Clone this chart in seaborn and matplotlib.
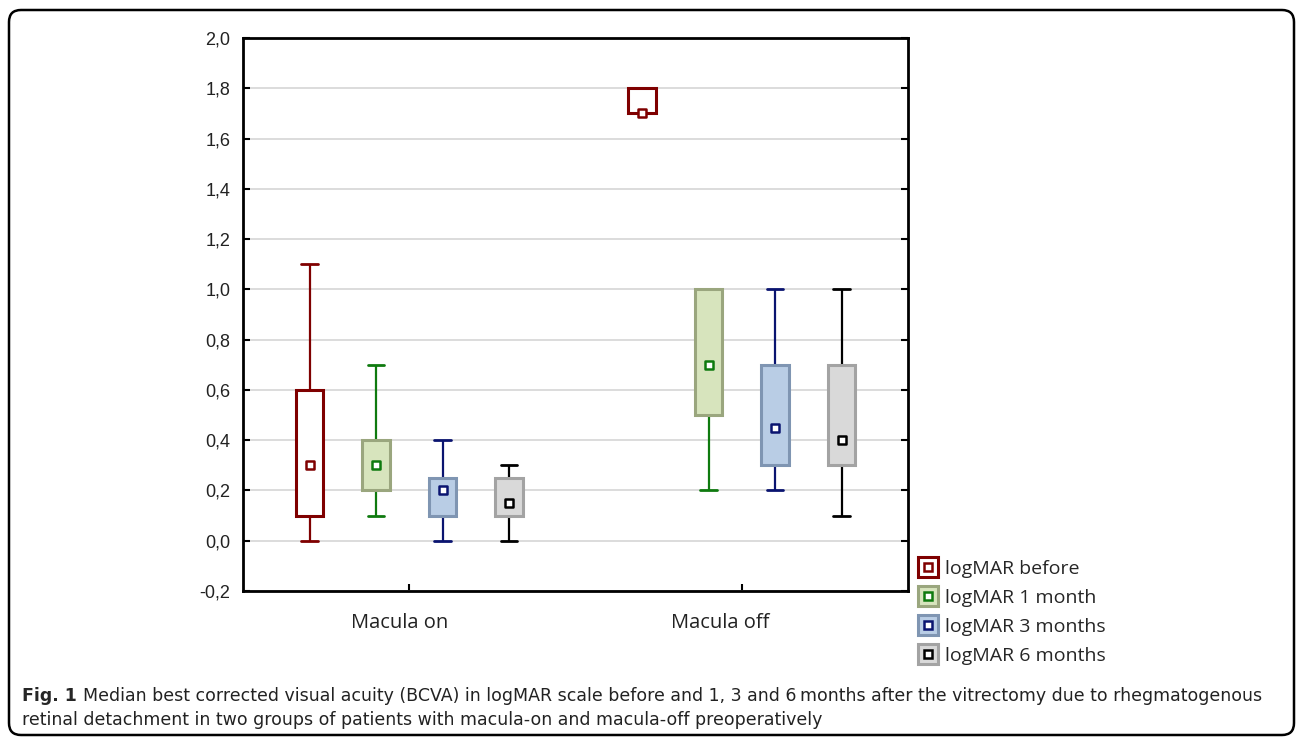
import numpy as np
import pandas as pd
import matplotlib
matplotlib.use("Agg")
import matplotlib.pyplot as plt
import matplotlib.transforms as mtransforms
import seaborn as sns
from matplotlib.patches import FancyBboxPatch
from matplotlib.lines import Line2D

# ---------------- data ----------------
groups = ["Macula on", "Macula off"]
times = ["logMAR before", "logMAR 1 month", "logMAR 3 months", "logMAR 6 months"]

# five-number summaries: min, q1, median, q3, max  (per time point)
on_before = [0.0, 0.1, 0.3, 0.6, 1.1]
on_1m     = [0.1, 0.2, 0.3, 0.4, 0.7]
on_3m     = [0.0, 0.1, 0.2, 0.25, 0.4]
on_6m     = [0.0, 0.1, 0.15, 0.25, 0.3]
off_before = [1.7, 1.7, 1.7, 1.8, 1.8]
off_1m     = [0.2, 0.5, 0.7, 1.0, 1.0]
off_3m     = [0.2, 0.3, 0.45, 0.7, 1.0]
off_6m     = [0.1, 0.3, 0.4, 0.7, 1.0]

y_ticks = [-0.2, 0.0, 0.2, 0.4, 0.6, 0.8, 1.0, 1.2, 1.4, 1.6, 1.8, 2.0]
y_tick_labels = ["-0,2", "0,0", "0,2", "0,4", "0,6", "0,8", "1,0",
                 "1,2", "1,4", "1,6", "1,8", "2,0"]

caption_bold = "Fig. 1"
caption_line1 = ("Median best corrected visual acuity (BCVA) in logMAR scale before and 1, 3 and 6\u2009months "
                 "after the vitrectomy due to rhegmatogenous")
caption_line2 = "retinal detachment in two groups of patients with macula-on and macula-off preoperatively"

# ---------------- styles ----------------
box_face  = ["#FFFFFF", "#D7E4BD", "#B9CDE5", "#D9D9D9"]
box_edge  = ["#7F0000", "#9AA67E", "#7F95B2", "#A3A3A3"]
line_col  = ["#7F0000", "#0F7A0F", "#0A1470", "#000000"]
xlabel_shift_px = [-10, -22]

summaries = {
    "Macula on": [on_before, on_1m, on_3m, on_6m],
    "Macula off": [off_before, off_1m, off_3m, off_6m],
}
rows = []
for g in groups:
    for t, s in zip(times, summaries[g]):
        for v in s:
            rows.append({"group": g, "time": t, "value": v})
df = pd.DataFrame(rows)
med_df = pd.DataFrame([{"group": g, "time": t, "median": s[2]}
                       for g in groups for t, s in zip(times, summaries[g])])

sns.set_style("white")
plt.rcParams["font.family"] = ["Liberation Sans", "DejaVu Sans"]

fig = plt.figure(figsize=(12.96, 7.39), dpi=100)

# card background with rounded border
bg = fig.add_axes([0, 0, 1, 1], zorder=-10)
bg.set_xlim(0, 1296)
bg.set_ylim(739, 0)
bg.axis("off")
bg.add_patch(FancyBboxPatch((9, 10), 1285, 725, boxstyle="round,pad=0,rounding_size=12",
                            facecolor="white", edgecolor="black", linewidth=1.8))

ax = fig.add_axes([243 / 1296, 1 - 591 / 739, (908 - 243) / 1296, (591 - 38) / 739])
ax.set_facecolor("none")

sns.boxplot(data=df, x="group", y="value", hue="time", order=groups, hue_order=times,
            whis=(0, 100), width=0.8, gap=0.58, showfliers=False, saturation=1,
            palette=box_face, linewidth=2, linecolor="black", legend=False, ax=ax,
            medianprops=dict(visible=False))

conts = list(ax.containers)
for i, c in enumerate(conts[:4]):
    for b in c.boxes:
        b.set_facecolor(box_face[i])
        b.set_edgecolor(box_edge[i])
        b.set_linewidth(2.2)
        b.set_zorder(3)
    for w in c.whiskers:
        w.set_color(line_col[i])
        w.set_linewidth(1.6)
        w.set_zorder(2)
    for cp in c.caps:
        cp.set_color(line_col[i])
        cp.set_linewidth(2.0)
        cp.set_zorder(2)
        xd = cp.get_xdata()
        mid = (xd[0] + xd[1]) / 2
        half = (xd[1] - xd[0]) / 2 * 1.2
        cp.set_xdata([mid - half, mid + half])

n0 = len(ax.collections)
sns.stripplot(data=med_df, x="group", y="median", hue="time", order=groups, hue_order=times,
              dodge=True, jitter=False, marker="s", size=5.5, linewidth=1.8,
              palette=line_col, legend=False, ax=ax, zorder=6)
for coll in ax.collections[n0:]:
    fc = coll.get_facecolor()
    coll.set_edgecolor(fc)
    coll.set_facecolor("white")
    coll.set_zorder(6)

ax.set_ylim(-0.2, 2.0)
ax.set_xlim(-0.5, 1.5)
ax.set_yticks(y_ticks, y_tick_labels)
ax.set_xticks(range(len(groups)), groups)
ax.set_xlabel("")
ax.set_ylabel("")
ax.yaxis.grid(True, color="#D9D9D9", linewidth=1.3, zorder=0)
ax.xaxis.grid(False)
ax.set_axisbelow(True)
for s in ax.spines.values():
    s.set_visible(True)
    s.set_color("black")
    s.set_linewidth(2)
ax.tick_params(axis="y", direction="in", left=True, right=True, length=5, width=1.5,
               labelsize=13, pad=9, colors="black")
ax.tick_params(axis="x", direction="in", bottom=True, top=False, length=5, width=1.5,
               labelsize=14.5, pad=16, colors="black")
for lab in ax.get_yticklabels():
    lab.set_color("#222222")
for lab, dx in zip(ax.get_xticklabels(), xlabel_shift_px):
    lab.set_fontfamily(["Open Sans", "DejaVu Sans"])
    lab.set_color("#222222")
    lab.set_transform(lab.get_transform() +
                      mtransforms.ScaledTranslation(dx / 100, 0, fig.dpi_scale_trans))

# legend
handles = []
for i in range(4):
    outer = Line2D([], [], linestyle="none", marker="s", markersize=14.5,
                   markerfacecolor=box_face[i], markeredgecolor=box_edge[i], markeredgewidth=2.2)
    inner = Line2D([], [], linestyle="none", marker="s", markersize=5.5,
                   markerfacecolor="white", markeredgecolor=line_col[i], markeredgewidth=1.8)
    handles.append((outer, inner))
fig.legend(handles, times, loc="upper left", bbox_to_anchor=(918 / 1296, 1 - 560 / 739),
           frameon=False, handlelength=1.05, handletextpad=0.35, labelspacing=0.57,
           borderaxespad=0, borderpad=0,
           prop={"family": ["Open Sans", "DejaVu Sans"], "size": 14})

# caption
cap_font = ["Liberation Sans Narrow", "DejaVu Sans"]
t1 = fig.text(22 / 1296, 1 - 696 / 739, caption_bold, fontsize=12.5, fontweight="bold",
              family=cap_font, va="center", ha="left")
fig.canvas.draw()
bb = t1.get_window_extent()
fig.text((bb.x1 + 6) / 1296, 1 - 696 / 739, caption_line1, fontsize=12.5,
         family=cap_font, va="center", ha="left", color="#222222")
fig.text(22 / 1296, 1 - 720 / 739, caption_line2, fontsize=12.5,
         family=cap_font, va="center", ha="left", color="#222222")

fig.savefig("out.png", dpi=100)
